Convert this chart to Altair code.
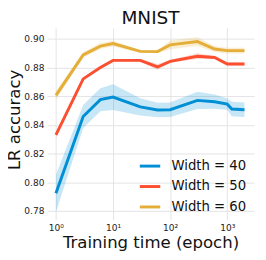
import altair as alt
import pandas as pd

epochs = [1, 3, 6, 10, 30, 60, 100, 300, 600, 1000, 1200, 2000]
series = ["Width = 40", "Width = 50", "Width = 60"]
colors = ["#008fd5", "#fc4f30", "#e5ae38"]

mean_40 = [0.7922, 0.8458, 0.8575, 0.8593, 0.8525, 0.8503, 0.8505, 0.8570, 0.8561, 0.8544, 0.8510, 0.8505]
mean_50 = [0.8330, 0.8720, 0.8800, 0.8849, 0.8849, 0.8803, 0.8842, 0.8878, 0.8869, 0.8824, 0.8824, 0.8824]
mean_60 = [0.8605, 0.8887, 0.8948, 0.8966, 0.8912, 0.8910, 0.8957, 0.8980, 0.8928, 0.8917, 0.8917, 0.8917]

err_40 = [0.013, 0.008, 0.008, 0.009, 0.006, 0.005, 0.005, 0.006, 0.005, 0.004, 0.005, 0.005]
err_50 = [0.002, 0.001, 0.001, 0.001, 0.001, 0.002, 0.001, 0.002, 0.001, 0.001, 0.001, 0.001]
err_60 = [0.003, 0.002, 0.002, 0.002, 0.001, 0.001, 0.003, 0.003, 0.002, 0.002, 0.002, 0.002]

y_ticks = [0.78, 0.80, 0.82, 0.84, 0.86, 0.88, 0.90]
x_ticks = [1, 10, 100, 1000]

rows = []
for name, m, e in zip(series, [mean_40, mean_50, mean_60], [err_40, err_50, err_60]):
    for x, mv, ev in zip(epochs, m, e):
        rows.append({"epoch": x, "acc": mv, "lo": mv - ev, "hi": mv + ev, "series": name})
df = pd.DataFrame(rows)

xscale = alt.Scale(type="log", domain=[0.695, 2950], nice=False)
yscale = alt.Scale(domain=[0.7739, 0.9075], nice=False, zero=False)
cscale = alt.Scale(domain=series, range=colors)

xaxis = alt.Axis(
    values=x_ticks,
    labelExpr="datum.value == 1 ? '10⁰' : datum.value == 10 ? '10¹' : datum.value == 100 ? '10²' : '10³'",
    title="Training time (epoch)",
)
yaxis = alt.Axis(values=y_ticks, format=".2f", title="LR accuracy", labelOverlap=False,
                 titleY=94)

legend = alt.Legend(
    title=None,
    orient="none",
    legendX=94,
    legendY=130,
    symbolType="stroke",
    symbolStrokeWidth=3,
    symbolSize=441,
    symbolOpacity=1,
    labelFontSize=13.6,
    labelFont="DejaVu Sans",
    labelColor="#111",
    labelOffset=10,
    rowPadding=2,
)

base = alt.Chart(df)

band = base.mark_area(opacity=0.22).encode(
    x=alt.X("epoch:Q", scale=xscale, axis=xaxis),
    y=alt.Y("lo:Q", scale=yscale, axis=yaxis),
    y2="hi:Q",
    color=alt.Color("series:N", scale=cscale, legend=legend),
)

line = base.mark_line(strokeWidth=3).encode(
    x=alt.X("epoch:Q", scale=xscale, axis=xaxis),
    y=alt.Y("acc:Q", scale=yscale, axis=yaxis),
    color=alt.Color("series:N", scale=cscale, legend=legend),
)

chart = (
    alt.layer(band, line)
    .properties(
        width=213,
        height=197,
        title=alt.TitleParams("MNIST", fontSize=19, font="DejaVu Sans", fontWeight="normal",
                              color="#111", offset=0.5),
        autosize=alt.AutoSizeParams(type="none"),
        padding={"left": 40, "top": 17, "right": 4, "bottom": 38},
    )
    .configure_view(stroke=None)
    .configure_axis(
        domain=False,
        ticks=False,
        grid=True,
        gridColor="#e3e3e3",
        gridWidth=1,
        labelFont="DejaVu Sans",
        labelFontSize=9.3,
        labelColor="#222",
        labelPadding=3,
        titleFont="DejaVu Sans",
        titleFontSize=17,
        titleFontWeight="normal",
        titleColor="#111",
    )
    .configure_axisY(titlePadding=0.5, labelOverlap=False)
    .configure_axisX(titlePadding=2, labelPadding=4)
)

chart.save("out.html", embed_options={"renderer": "svg", "actions": False})
